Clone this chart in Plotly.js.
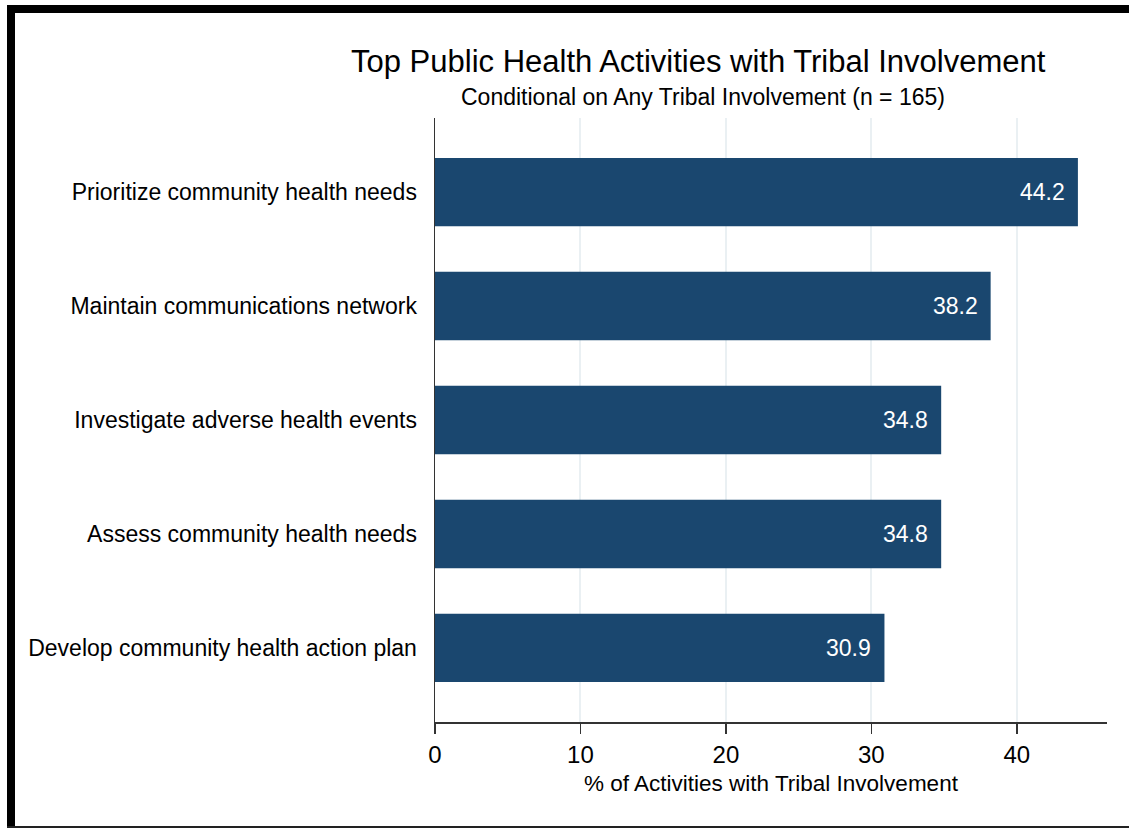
<!DOCTYPE html>
<html>
<head>
<meta charset="utf-8">
<script src="https://cdn.plot.ly/plotly-3.0.1.min.js"></script>
<style>
html,body{margin:0;padding:0;background:#fff;}
#chart{width:1129px;height:830px;}
</style>
</head>
<body>
<div id="chart"></div>
<script>
const categories = [
  "Prioritize community health needs",
  "Maintain communications network",
  "Investigate adverse health events",
  "Assess community health needs",
  "Develop community health action plan"
];
const values = [44.2, 38.2, 34.8, 34.8, 30.9];
const valueLabels = ["44.2", "38.2", "34.8", "34.8", "30.9"];
const xTicks = [0, 10, 20, 30, 40];

const W = 1129, H = 830;
const L = 435, R = 22, T = 118, B = 108;
const pw = W - L - R, ph = H - T - B;
function px(x){ return (x - L) / pw; }
function py(y){ return (H - B - y) / ph; }

const font = "Liberation Sans, Arial, sans-serif";

const trace = {
  type: "bar",
  orientation: "h",
  y: categories,
  x: values,
  width: 0.6,
  marker: {color: "#1a476f", line: {width: 0}},
  hoverinfo: "none"
};

const annotations = categories.map((c, i) => ({
  x: values[i], y: c, xref: "x", yref: "y",
  text: valueLabels[i], showarrow: false,
  xanchor: "right", yanchor: "middle", xshift: -11,
  font: {family: font, size: 23, color: "#ffffff"}
}));

annotations.push({
  xref: "paper", yref: "paper", x: px(698), y: py(62),
  text: "Top Public Health Activities with Tribal Involvement",
  showarrow: false, xanchor: "center", yanchor: "middle",
  font: {family: font, size: 31, color: "#000"}
});
annotations.push({
  xref: "paper", yref: "paper", x: px(703), y: py(97),
  text: "Conditional on Any Tribal Involvement (n = 165)",
  showarrow: false, xanchor: "center", yanchor: "middle",
  font: {family: font, size: 23, color: "#000"}
});
annotations.push({
  xref: "paper", yref: "paper", x: px(771), y: py(783),
  text: "% of Activities with Tribal Involvement",
  showarrow: false, xanchor: "center", yanchor: "middle",
  borderpad: 0,
  font: {family: font, size: 22.5, color: "#000"}
});

const shapes = [
  {type: "rect", xref: "paper", yref: "paper", x0: px(7), x1: px(15), y0: py(828), y1: py(5), fillcolor: "#000", line: {width: 0}, layer: "above"},
  {type: "rect", xref: "paper", yref: "paper", x0: px(7), x1: px(1129), y0: py(13), y1: py(5), fillcolor: "#000", line: {width: 0}, layer: "above"},
  {type: "rect", xref: "paper", yref: "paper", x0: px(7), x1: px(1129), y0: py(828), y1: py(826), fillcolor: "#222", line: {width: 0}, layer: "above"}
];

const layout = {
  width: W, height: H,
  margin: {l: L, r: R, t: T, b: B, pad: 0},
  paper_bgcolor: "#fff",
  plot_bgcolor: "#fff",
  showlegend: false,
  font: {family: font, color: "#000"},
  xaxis: {
    range: [0, 46.2],
    tickvals: xTicks,
    ticktext: xTicks.map(String),
    ticks: "outside", ticklen: 10, tickwidth: 1.5, tickcolor: "#333",
    showline: true, linecolor: "#333", linewidth: 1.5,
    showgrid: true, gridcolor: "#eaf0f3", gridwidth: 2,
    zeroline: false,
    tickfont: {family: font, size: 24, color: "#000"},
    ticklabelstandoff: 1
  },
  yaxis: {
    type: "category",
    range: [4.65, -0.65],
    showline: true, linecolor: "#333", linewidth: 1.5,
    ticks: "", showgrid: false, zeroline: false,
    tickfont: {family: font, size: 23, color: "#000"},
    ticklabelstandoff: 12
  },
  annotations: annotations,
  shapes: shapes
};

Plotly.newPlot("chart", [trace], layout, {displayModeBar: false, staticPlot: true});
</script>
</body>
</html>
